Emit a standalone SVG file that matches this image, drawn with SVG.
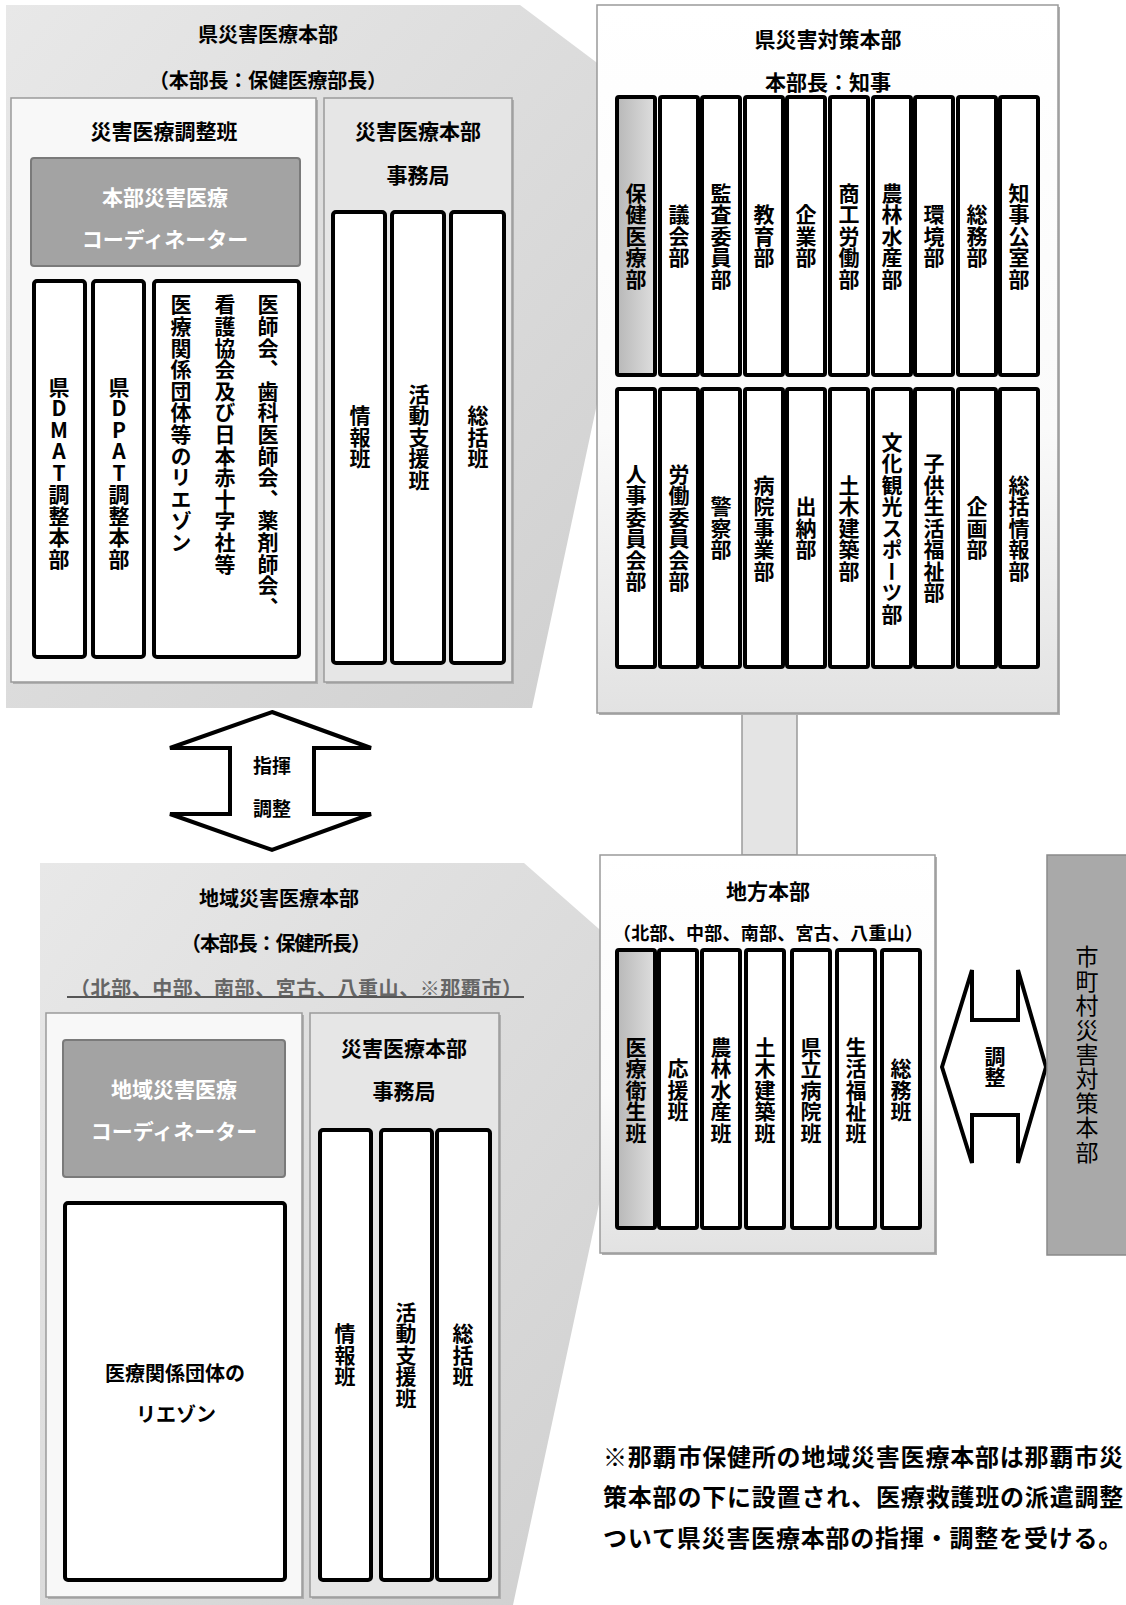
<svg xmlns="http://www.w3.org/2000/svg" width="1126" height="1605" viewBox="0 0 1126 1605">
<defs>
<linearGradient id="shadeL" x1="0" y1="0" x2="1" y2="1">
<stop offset="0" stop-color="#e8e8e8"/><stop offset="1" stop-color="#cfcfcf"/>
</linearGradient>
<linearGradient id="boxG" x1="0" y1="0" x2="0" y2="1">
<stop offset="0" stop-color="#ffffff"/><stop offset="0.6" stop-color="#fafafa"/><stop offset="1" stop-color="#e2e2e2"/>
</linearGradient>
<linearGradient id="colG" x1="0" y1="0" x2="1" y2="0">
<stop offset="0" stop-color="#b8b8b8"/><stop offset="1" stop-color="#dedede"/>
</linearGradient>
<style>
.t{font-family:'Noto Sans CJK JP','Noto Sans',sans-serif;font-weight:700;fill:#000;}
.h{text-anchor:middle;dominant-baseline:central;}
.v{writing-mode:vertical-rl;text-orientation:upright;text-anchor:middle;font-size:21px;letter-spacing:0.5px;}
.vs{writing-mode:vertical-rl;text-orientation:upright;text-anchor:start;font-size:21px;letter-spacing:0.6px;}
.col{fill:#fff;stroke:#000;stroke-width:4;}
.colg{fill:url(#colG);stroke:#000;stroke-width:4;}
.inW{fill:#f8f8f8;stroke:#9a9a9a;stroke-width:1.5;}
.inG{fill:#e6e6e6;stroke:#9a9a9a;stroke-width:1.5;}
.shadow{fill:#b0b0b0;}
.coord{fill:#a3a3a3;stroke:#7a7a7a;stroke-width:2;}
.wt{fill:#fff;}
.big{fill:url(#boxG);stroke:#9a9a9a;stroke-width:1.5;}
.arrow{fill:#fff;stroke:#000;stroke-width:4;stroke-linejoin:miter;}
.reg{font-weight:400;}
.gray{fill:#666;}
</style>
</defs>

<!-- expansion shading shapes -->
<polygon id="shade-top" points="6,5 520,5 640,95 640,343 610,343 532,708 6,708" fill="url(#shadeL)"/>
<polygon id="shade-bottom" points="40,863 524,863 640,965 640,1150 610,1153 513,1605 40,1605" fill="url(#shadeL)"/>

<!-- 県災害医療本部 -->
<g id="pref-medical-hq">
<text class="t h" x="268" y="33" font-size="20">県災害医療本部</text>
<text class="t h" x="268" y="79" font-size="20" textLength="238" lengthAdjust="spacing">（本部長：保健医療部長）</text>
</g>

<g id="coord-team">
<rect class="shadow" x="13" y="100" width="305" height="584"/>
<rect class="inW" x="11" y="98" width="305" height="584"/>
<text class="t h" x="164" y="130" font-size="21">災害医療調整班</text>
</g>
<g id="hq-coordinator">
<rect class="coord" x="31" y="158" width="269" height="108" rx="3"/>
<text class="t h wt" x="165" y="196" font-size="21">本部災害医療</text>
<text class="t h wt" x="165" y="238" font-size="21">コーディネーター</text>
</g>
<g id="dmat">
<rect class="col" x="34" y="281" width="51" height="376" rx="3"/>
<text class="t v" x="59" y="473">県DMAT調整本部</text>
</g>
<g id="dpat">
<rect class="col" x="93" y="281" width="51" height="376" rx="3"/>
<text class="t v" x="119" y="473">県DPAT調整本部</text>
</g>
<g id="liaison-top">
<rect class="col" x="154" y="281" width="145" height="376" rx="3"/>
<text class="t vs" x="268" y="294">医師会、歯科医師会、薬剤師会、</text>
<text class="t vs" x="225" y="294">看護協会及び日本赤十字社等</text>
<text class="t vs" x="181" y="294">医療関係団体等のリエゾン</text>
</g>

<g id="secretariat-top">
<rect class="shadow" x="326" y="100" width="188" height="584"/>
<rect class="inG" x="324" y="98" width="188" height="584"/>
<text class="t h" x="418" y="130" font-size="21">災害医療本部</text>
<text class="t h" x="418" y="174" font-size="21">事務局</text>
</g>
<g id="info-top"><rect class="col" x="333" y="212" width="52" height="451" rx="3"/><text class="t v" x="360" y="437">情報班</text></g>
<g id="support-top"><rect class="col" x="392" y="212" width="52" height="451" rx="3"/><text class="t v" x="419" y="437">活動支援班</text></g>
<g id="general-top"><rect class="col" x="451" y="212" width="53" height="451" rx="3"/><text class="t v" x="478" y="437">総括班</text></g>

<!-- connectors -->
<g id="connectors">
<polygon class="arrow" points="272,712 371,748 314,748 314,814 371,814 272,850 170,814 230,814 230,748 170,748"/>
<text class="t h" x="272" y="764" font-size="19">指揮</text>
<text class="t h" x="272" y="807" font-size="19">調整</text>
<rect x="742" y="713" width="55" height="142" fill="#e4e4e4" stroke="#9a9a9a" stroke-width="1.5"/>
<polygon class="arrow" points="942,1067 972,970 972,1020 1018,1020 1018,970 1046,1067 1018,1163 1018,1115 972,1115 972,1163"/>
<text class="t v" x="995" y="1067" font-size="20">調整</text>
</g>

<!-- 県災害対策本部 -->
<g id="pref-disaster-hq">
<rect class="shadow" x="599" y="7" width="461" height="708"/>
<rect class="big" x="597" y="5" width="461" height="708"/>
<text class="t h" x="828" y="38" font-size="21">県災害対策本部</text>
<text class="t h" x="828" y="81" font-size="21">本部長：知事</text>
</g>
<g id="d-health"><rect class="colg" x="617" y="97" width="38" height="278" rx="2"/><text class="t v" x="636" y="236">保健医療部</text></g>
<g id="d-assembly"><rect class="col" x="660" y="97" width="38" height="278" rx="2"/><text class="t v" x="679" y="236">議会部</text></g>
<g id="d-audit"><rect class="col" x="702" y="97" width="38" height="278" rx="2"/><text class="t v" x="721" y="236">監査委員部</text></g>
<g id="d-edu"><rect class="col" x="745" y="97" width="38" height="278" rx="2"/><text class="t v" x="764" y="236">教育部</text></g>
<g id="d-enterprise"><rect class="col" x="787" y="97" width="38" height="278" rx="2"/><text class="t v" x="806" y="236">企業部</text></g>
<g id="d-commerce"><rect class="col" x="830" y="97" width="38" height="278" rx="2"/><text class="t v" x="849" y="236">商工労働部</text></g>
<g id="d-agri"><rect class="col" x="873" y="97" width="38" height="278" rx="2"/><text class="t v" x="892" y="236">農林水産部</text></g>
<g id="d-env"><rect class="col" x="915" y="97" width="38" height="278" rx="2"/><text class="t v" x="934" y="236">環境部</text></g>
<g id="d-general"><rect class="col" x="958" y="97" width="38" height="278" rx="2"/><text class="t v" x="977" y="236">総務部</text></g>
<g id="d-governor"><rect class="col" x="1000" y="97" width="38" height="278" rx="2"/><text class="t v" x="1019" y="236">知事公室部</text></g>

<g id="d-personnel"><rect class="col" x="617" y="389" width="38" height="278" rx="2"/><text class="t v" x="636" y="528">人事委員会部</text></g>
<g id="d-labor"><rect class="col" x="660" y="389" width="38" height="278" rx="2"/><text class="t v" x="679" y="528">労働委員会部</text></g>
<g id="d-police"><rect class="col" x="702" y="389" width="38" height="278" rx="2"/><text class="t v" x="721" y="528">警察部</text></g>
<g id="d-hospital"><rect class="col" x="745" y="389" width="38" height="278" rx="2"/><text class="t v" x="764" y="528">病院事業部</text></g>
<g id="d-treasury"><rect class="col" x="787" y="389" width="38" height="278" rx="2"/><text class="t v" x="806" y="528">出納部</text></g>
<g id="d-civil"><rect class="col" x="830" y="389" width="38" height="278" rx="2"/><text class="t v" x="849" y="528">土木建築部</text></g>
<g id="d-culture"><rect class="col" x="873" y="389" width="38" height="278" rx="2"/><text class="t v" x="892" y="528">文化観光スポーツ部</text></g>
<g id="d-children"><rect class="col" x="915" y="389" width="38" height="278" rx="2"/><text class="t v" x="934" y="528">子供生活福祉部</text></g>
<g id="d-planning"><rect class="col" x="958" y="389" width="38" height="278" rx="2"/><text class="t v" x="977" y="528">企画部</text></g>
<g id="d-info"><rect class="col" x="1000" y="389" width="38" height="278" rx="2"/><text class="t v" x="1019" y="528">総括情報部</text></g>

<!-- 地方本部 -->
<g id="regional-hq">
<rect class="shadow" x="602" y="857" width="335" height="398"/>
<rect class="big" x="600" y="855" width="335" height="398"/>
<text class="t h" x="768" y="890" font-size="21">地方本部</text>
<text class="t h" x="768" y="932" font-size="18" textLength="310" lengthAdjust="spacing">（北部、中部、南部、宮古、八重山）</text>
</g>
<g id="r-medical"><rect class="colg" x="617" y="950" width="38" height="278" rx="2"/><text class="t v" x="636" y="1090">医療衛生班</text></g>
<g id="r-support"><rect class="col" x="659" y="950" width="38" height="278" rx="2"/><text class="t v" x="678" y="1090">応援班</text></g>
<g id="r-agri"><rect class="col" x="702" y="950" width="38" height="278" rx="2"/><text class="t v" x="721" y="1090">農林水産班</text></g>
<g id="r-civil"><rect class="col" x="746" y="950" width="38" height="278" rx="2"/><text class="t v" x="765" y="1090">土木建築班</text></g>
<g id="r-hospital"><rect class="col" x="792" y="950" width="38" height="278" rx="2"/><text class="t v" x="811" y="1090">県立病院班</text></g>
<g id="r-welfare"><rect class="col" x="837" y="950" width="38" height="278" rx="2"/><text class="t v" x="856" y="1090">生活福祉班</text></g>
<g id="r-general"><rect class="col" x="882" y="950" width="38" height="278" rx="2"/><text class="t v" x="901" y="1090">総務班</text></g>

<!-- 市町村災害対策本部 -->
<g id="municipal-hq">
<rect x="1047" y="855" width="85" height="400" fill="#a9a9a9" stroke="#8a8a8a" stroke-width="1.5"/>
<text class="t v reg" x="1087" y="1055" font-size="23" style="font-size:23px;letter-spacing:1.4px">市町村災害対策本部</text>
</g>

<!-- 地域災害医療本部 -->
<g id="area-medical-hq">
<text class="t h" x="279" y="897" font-size="20">地域災害医療本部</text>
<text class="t h" x="276" y="942" font-size="20" textLength="190" lengthAdjust="spacing">（本部長：保健所長）</text>
<text class="t h gray" x="296" y="987" font-size="20" textLength="452" lengthAdjust="spacing">（北部、中部、南部、宮古、八重山、※那覇市）</text>
<line x1="67" y1="997" x2="524" y2="997" stroke="#555" stroke-width="2"/>
</g>
<g id="area-left">
<rect class="shadow" x="48" y="1015" width="256" height="584"/>
<rect class="inW" x="46" y="1013" width="256" height="584"/>
</g>
<g id="area-coordinator">
<rect class="coord" x="63" y="1040" width="222" height="137" rx="3"/>
<text class="t h wt" x="174" y="1088" font-size="21">地域災害医療</text>
<text class="t h wt" x="174" y="1130" font-size="21">コーディネーター</text>
</g>
<g id="area-liaison">
<rect class="col" x="65" y="1203" width="220" height="377" rx="3"/>
<text class="t h" x="175" y="1372" font-size="20">医療関係団体の</text>
<text class="t h" x="176" y="1413" font-size="20">リエゾン</text>
</g>
<g id="secretariat-bottom">
<rect class="shadow" x="312" y="1015" width="189" height="584"/>
<rect class="inG" x="310" y="1013" width="189" height="584"/>
<text class="t h" x="404" y="1047" font-size="21">災害医療本部</text>
<text class="t h" x="404" y="1090" font-size="21">事務局</text>
</g>
<g id="info-bottom"><rect class="col" x="320" y="1130" width="51" height="450" rx="3"/><text class="t v" x="345" y="1355">情報班</text></g>
<g id="support-bottom"><rect class="col" x="381" y="1130" width="51" height="450" rx="3"/><text class="t v" x="406" y="1355">活動支援班</text></g>
<g id="general-bottom"><rect class="col" x="437" y="1130" width="53" height="450" rx="3"/><text class="t v" x="463" y="1355">総括班</text></g>

<!-- note -->
<g id="note">
<text class="t" x="603" y="1466" font-size="24" letter-spacing="0.8">※那覇市保健所の地域災害医療本部は那覇市災</text>
<text class="t" x="603" y="1506" font-size="24" letter-spacing="0.8">策本部の下に設置され、医療救護班の派遣調整</text>
<text class="t" x="603" y="1547" font-size="24" letter-spacing="0.8">ついて県災害医療本部の指揮・調整を受ける。</text>
</g>
</svg>
